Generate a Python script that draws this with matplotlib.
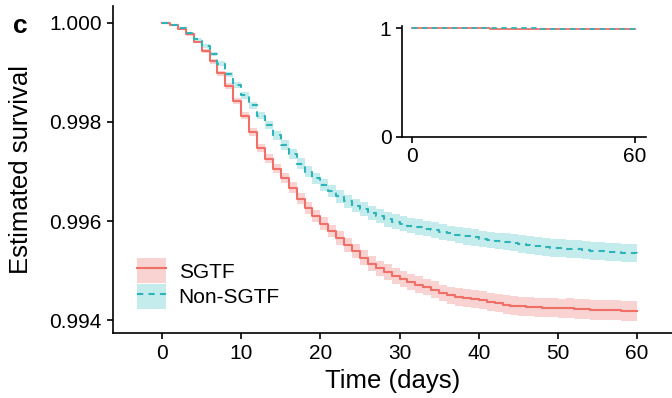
import numpy as np
import matplotlib.pyplot as plt
from matplotlib.patches import Patch
from matplotlib.lines import Line2D

plt.rcParams['font.family'] = ['Liberation Sans', 'DejaVu Sans']

days = list(range(0, 61))

# estimated survival, read off per day
sgtf = [1.00000, 0.99995, 0.99987, 0.99977, 0.99962, 0.99943, 0.99922, 0.99898, 0.99872, 0.99843,
        0.99813, 0.99780, 0.99748, 0.99726, 0.99706, 0.99687, 0.99667, 0.99645, 0.99627, 0.99611,
        0.99595, 0.99580, 0.99566, 0.99552, 0.99539, 0.99526, 0.99514, 0.99505, 0.99497, 0.99490,
        0.99483, 0.99477, 0.99472, 0.99467, 0.99462, 0.99455, 0.99450, 0.99447, 0.99445, 0.99442,
        0.99440, 0.99437, 0.99434, 0.99431, 0.99429, 0.99428, 0.99427, 0.99426, 0.99425, 0.99425,
        0.99424, 0.99424, 0.99423, 0.99422, 0.99421, 0.99421, 0.99420, 0.99420, 0.99419, 0.99419,
        0.99419]
non_sgtf = [1.00000, 0.99996, 0.99989, 0.99979, 0.99967, 0.99953, 0.99937, 0.99917, 0.99896, 0.99875,
            0.99854, 0.99834, 0.99813, 0.99793, 0.99773, 0.99754, 0.99735, 0.99716, 0.99700, 0.99686,
            0.99673, 0.99661, 0.99650, 0.99640, 0.99631, 0.99624, 0.99617, 0.99610, 0.99604, 0.99599,
            0.99595, 0.99591, 0.99588, 0.99585, 0.99582, 0.99578, 0.99575, 0.99572, 0.99569, 0.99567,
            0.99564, 0.99562, 0.99560, 0.99558, 0.99556, 0.99554, 0.99552, 0.99550, 0.99548, 0.99546,
            0.99545, 0.99544, 0.99543, 0.99542, 0.99540, 0.99539, 0.99538, 0.99537, 0.99536, 0.99535,
            0.99533]

# half-width of the confidence band, per day
sgtf_ci = [0.00000, 0.00001, 0.00002, 0.00003, 0.00003, 0.00004, 0.00005, 0.00005, 0.00006, 0.00006,
           0.00007, 0.00008, 0.00008, 0.00009, 0.00009, 0.00010, 0.00011, 0.00011, 0.00012, 0.00012,
           0.00013, 0.00013, 0.00014, 0.00014, 0.00014, 0.00015, 0.00015, 0.00015, 0.00016, 0.00016,
           0.00016, 0.00016, 0.00017, 0.00017, 0.00017, 0.00017, 0.00017, 0.00018, 0.00018, 0.00018,
           0.00018, 0.00018, 0.00018, 0.00019, 0.00019, 0.00019, 0.00019, 0.00019, 0.00019, 0.00019,
           0.00019, 0.00020, 0.00020, 0.00020, 0.00020, 0.00020, 0.00020, 0.00020, 0.00020, 0.00020,
           0.00020]
non_sgtf_ci = [0.00000, 0.00001, 0.00002, 0.00002, 0.00003, 0.00004, 0.00004, 0.00005, 0.00005, 0.00006,
               0.00007, 0.00007, 0.00008, 0.00008, 0.00009, 0.00010, 0.00010, 0.00011, 0.00011, 0.00012,
               0.00012, 0.00012, 0.00013, 0.00013, 0.00013, 0.00014, 0.00014, 0.00014, 0.00015, 0.00015,
               0.00015, 0.00015, 0.00016, 0.00016, 0.00016, 0.00016, 0.00016, 0.00017, 0.00017, 0.00017,
               0.00017, 0.00017, 0.00017, 0.00017, 0.00017, 0.00018, 0.00018, 0.00018, 0.00018, 0.00018,
               0.00018, 0.00018, 0.00018, 0.00018, 0.00018, 0.00018, 0.00018, 0.00018, 0.00018, 0.00018,
               0.00018]

red = '#F07068'
teal = '#2DB4B8'
red_fill = '#F9D3D1'
teal_fill = '#C5ECED'

t = np.array(days)
s1, s2 = np.array(sgtf), np.array(non_sgtf)
c1, c2 = np.array(sgtf_ci), np.array(non_sgtf_ci)

fig = plt.figure(figsize=(6.72, 3.98), dpi=100)

# ----------------------- main plot -----------------------
ax = fig.add_axes([0.168, 0.163, 0.832, 0.822])
ax.fill_between(t, s1 - c1, s1 + c1, step='post', color=red_fill, lw=0)
ax.fill_between(t, s2 - c2, s2 + c2, step='post', color=teal_fill, lw=0)
ax.step(t, s1, where='post', color=red, lw=1.5)
ax.step(t, s2, where='post', color=teal, lw=1.5, dashes=(3, 2.5))

ax.set_xlim(-6.2, 64.4)
ax.set_ylim(0.99374, 1.00034)
ax.set_xticks(range(0, 61, 10))
ax.set_yticks([0.994, 0.996, 0.998, 1.000])
ax.set_yticklabels(['0.994', '0.996', '0.998', '1.000'])
for side in ['top', 'right']:
    ax.spines[side].set_visible(False)
for side in ['left', 'bottom']:
    ax.spines[side].set_linewidth(1.2)
ax.tick_params(labelsize=15, width=1.2, length=4.5, pad=3.5)
ax.set_xlabel('Time (days)', fontsize=18.5, va='center')
ax.set_ylabel('Estimated survival', fontsize=18.5, va='center')
ax.xaxis.set_label_coords(0.5, -0.147)
ax.yaxis.set_label_coords(-0.165, 0.5)

handles = [(Patch(color=red_fill, lw=0), Line2D([], [], color=red, lw=1.5)),
           (Patch(color=teal_fill, lw=0), Line2D([], [], color=teal, lw=1.5, dashes=(3, 2.5)))]
ax.legend(handles, ['SGTF', 'Non-SGTF'], loc='lower left', bbox_to_anchor=(0.017, 0.03),
          frameon=False, fontsize=15, handlelength=1.4, handleheight=1.45,
          labelspacing=0.04, handletextpad=0.6, borderaxespad=0.3)

fig.text(0.02, 0.917, 'c', fontsize=19, fontweight='bold')

# ----------------------- inset -----------------------
ins = fig.add_axes([0.598, 0.656, 0.363, 0.279])
ins.step(t, s1, where='post', color=red, lw=1.3)
ins.step(t, s2, where='post', color=teal, lw=1.3, dashes=(3, 2.5))
ins.set_xlim(-2.7, 63)
ins.set_ylim(0, 1.02)
ins.set_xticks([0, 60])
ins.set_yticks([0, 1])
for side in ['top', 'right']:
    ins.spines[side].set_visible(False)
for side in ['left', 'bottom']:
    ins.spines[side].set_linewidth(1.2)
ins.tick_params(labelsize=15, width=1.2, length=4.5, pad=3)

plt.savefig('out.png', dpi=100)
